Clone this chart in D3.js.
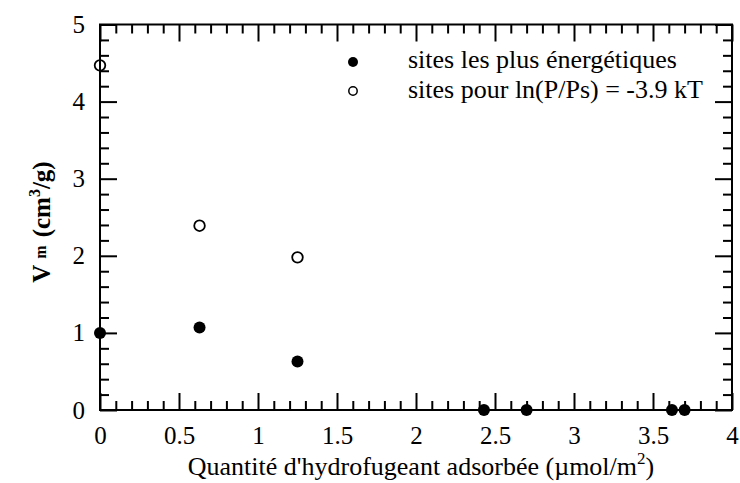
<!DOCTYPE html>
<html><head><meta charset="utf-8">
<script src="https://cdn.jsdelivr.net/npm/d3@7"></script>
<style>html,body{margin:0;padding:0;background:#fff;} svg{display:block;}</style>
</head><body>
<svg id="c" width="740" height="483"></svg>
<script>
const filledX = [0, 0.63, 1.25, 2.43, 2.70, 3.62, 3.70];
const filledY = [1.00, 1.07, 0.63, 0, 0, 0, 0];
const openX = [0, 0.63, 1.25];
const openY = [4.47, 2.39, 1.98];
const xTickLabels = [0, 0.5, 1, 1.5, 2, 2.5, 3, 3.5, 4];
const yTickLabels = [0, 1, 2, 3, 4, 5];
const legendLabels = ["sites les plus énergétiques", "sites pour ln(P/Ps) = -3.9 kT"];

const svg = d3.select("#c");
const FONT = "'Liberation Serif','Times New Roman',serif";
const L = 100, R = 732, T = 24.5, B = 410;
const x = d3.scaleLinear().domain([0, 4]).range([L, R]);
const y = d3.scaleLinear().domain([0, 5]).range([B, T]);

const xMinor = d3.range(0, 41).map(d => d / 10).filter(v => Math.abs(v * 2 - Math.round(v * 2)) > 1e-6);
const yMinor = d3.range(0, 26).map(d => d / 5).filter(v => Math.abs(v - Math.round(v)) > 1e-6);
const MAJ = 17, MIN = 9;

// frame
svg.append("path").attr("d", `M${L},${T}H${R}V${B}H${L}Z`)
  .style("fill", "none").attr("stroke", "#000").attr("stroke-width", 2);

// axes: bottom/left carry labels; all four carry inward ticks
function styleAxis(g) {
  g.select(".domain").remove();
  g.selectAll(".tick line").attr("stroke", "#000").attr("stroke-width", 2);
  g.selectAll(".tick text").attr("font-family", FONT).attr("font-size", 25).attr("fill", "#000");
}
function addAxis(axis, tx, ty) {
  const g = svg.append("g").attr("transform", `translate(${tx},${ty})`).call(axis);
  styleAxis(g);
}
addAxis(d3.axisBottom(x).tickValues(xTickLabels).tickSizeInner(-MAJ).tickSizeOuter(0).tickPadding(16).tickFormat(d3.format("")), 0, B);
addAxis(d3.axisBottom(x).tickValues(xMinor).tickSizeInner(-MIN).tickSizeOuter(0).tickFormat(""), 0, B);
addAxis(d3.axisTop(x).tickValues(xTickLabels).tickSizeInner(-MAJ).tickSizeOuter(0).tickFormat(""), 0, T);
addAxis(d3.axisTop(x).tickValues(xMinor).tickSizeInner(-MIN).tickSizeOuter(0).tickFormat(""), 0, T);
addAxis(d3.axisLeft(y).tickValues(yTickLabels).tickSizeInner(-MAJ).tickSizeOuter(0).tickPadding(15).tickFormat(d3.format("d")), L, 0);
addAxis(d3.axisLeft(y).tickValues(yMinor).tickSizeInner(-MIN).tickSizeOuter(0).tickFormat(""), L, 0);
addAxis(d3.axisRight(y).tickValues(yTickLabels).tickSizeInner(-MAJ).tickSizeOuter(0).tickFormat(""), R, 0);
addAxis(d3.axisRight(y).tickValues(yMinor).tickSizeInner(-MIN).tickSizeOuter(0).tickFormat(""), R, 0);

// points
svg.append("g").selectAll("circle").data(filledX.map((v, i) => [v, filledY[i]])).join("circle")
  .attr("cx", d => x(d[0])).attr("cy", d => y(d[1])).attr("r", 6).attr("fill", "#000");
svg.append("g").selectAll("circle").data(openX.map((v, i) => [v, openY[i]])).join("circle")
  .attr("cx", d => x(d[0])).attr("cy", d => y(d[1])).attr("r", 5.3)
  .style("fill", "none").attr("stroke", "#000").attr("stroke-width", 1.8);

// legend
const lg = svg.append("g");
lg.append("circle").attr("cx", 353).attr("cy", 62).attr("r", 5).attr("fill", "#000");
lg.append("circle").attr("cx", 353).attr("cy", 91).attr("r", 4.2).style("fill", "none").attr("stroke", "#000").attr("stroke-width", 1.5);
lg.selectAll("text").data(legendLabels).join("text")
  .attr("x", 408).attr("y", (d, i) => 68 + i * 30)
  .attr("font-family", FONT).attr("font-size", 26).attr("fill", "#000").text(d => d);

// x title
const xt = svg.append("text").attr("x", 421).attr("y", 475).attr("text-anchor", "middle")
  .attr("font-family", FONT).attr("font-size", 26).attr("fill", "#000");
xt.append("tspan").text("Quantité d'hydrofugeant adsorbée (µmol/m");
xt.append("tspan").attr("font-size", 17).attr("dy", -11).text("2");
xt.append("tspan").attr("dy", 11).text(")");

// y title
const yt = svg.append("text").attr("transform", `translate(50,222) rotate(-90)`).attr("text-anchor", "middle")
  .attr("font-family", FONT).attr("font-size", 25).attr("font-weight", "bold").attr("fill", "#000");
yt.append("tspan").text("V");
yt.append("tspan").attr("font-size", 16).attr("dx", 6).attr("dy", -4).text("m");
yt.append("tspan").attr("dx", 8).attr("dy", 4).text("(cm");
yt.append("tspan").attr("font-size", 16).attr("dy", -10).text("3");
yt.append("tspan").attr("dy", 10).text("/g)");
</script>
</body></html>
